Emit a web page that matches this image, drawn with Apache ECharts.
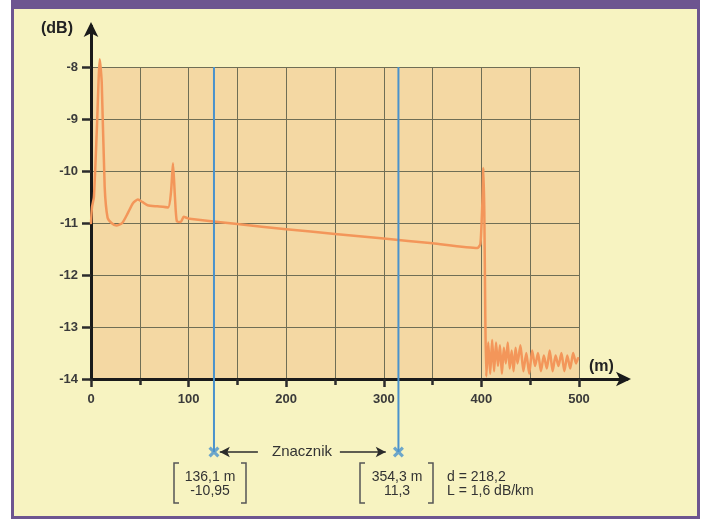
<!DOCTYPE html>
<html>
<head>
<meta charset="utf-8">
<script src="https://cdn.jsdelivr.net/npm/echarts@6/dist/echarts.min.js"></script>
<style>
  body { margin: 0; background: #ffffff; }
  #frame { position: absolute; left: 11px; top: 0; width: 689px; height: 519px; box-sizing: border-box;
           border: 3px solid #6d5590; border-top-width: 9px; background: #f7f3c1; }
  #main { position: absolute; left: 0; top: 0; width: 702px; height: 519px; }
</style>
</head>
<body>
<div id="frame"></div>
<div id="main"></div>
<script>
// OTDR trace: distance (m) and level (dB)
var distM = [0, 1, 3, 6, 9, 11, 14, 17, 21, 26, 32, 38, 43, 48, 53, 58, 68, 79, 82, 84, 86, 88, 92, 95, 98, 101,
  150, 200, 250, 300, 350, 396, 399, 401, 402, 403, 404,
  405, 407, 409, 411, 413, 415, 417, 419, 421, 423, 425, 427, 429, 431, 433, 435, 437, 440, 443, 446, 449,
  452, 455, 458, 461, 464, 467, 470, 473, 476, 479, 482, 485, 488, 491, 494, 497, 499];
var levelDb = [-11.0, -10.7, -10.5, -9.2, -7.85, -8.3, -10.3, -10.9, -11.0, -11.05, -11.0, -10.8, -10.62, -10.55, -10.6, -10.66, -10.68, -10.7, -10.4, -9.85, -10.5, -10.97, -10.98, -10.88, -10.9, -10.92,
  -11.02, -11.12, -11.21, -11.3, -11.39, -11.48, -11.4, -10.6, -9.94, -10.8, -12.8,
  -13.95, -13.3, -13.9, -13.25, -13.85, -13.3, -13.75, -13.35, -13.9, -13.4, -13.7, -13.3, -13.8, -13.45, -13.85, -13.4, -13.7, -13.35, -13.85, -13.5, -13.9,
  -13.45, -13.75, -13.5, -13.85, -13.55, -13.8, -13.45, -13.85, -13.55, -13.75, -13.5, -13.85, -13.55, -13.8, -13.5, -13.7, -13.6];

// markers (drawn position on the distance axis)
var markerDist = [126, 315];
var markerText1 = ['136,1 m', '-10,95'];
var markerText2 = ['354,3 m', '11,3'];
var resultText = ['d = 218,2', 'L = 1,6 dB/km'];

var trace = distM.map(function (d, i) { return [d, levelDb[i]]; });
var blue = '#4a92cc';
var ink = '#2b2b2b';
var font = 'Liberation Sans';

var chart = echarts.init(document.getElementById('main'));
var option = {
  animation: false,
  backgroundColor: 'transparent',
  grid: [
    { left: 91, top: 67, width: 488, height: 312, show: true, backgroundColor: '#f4d8a3', borderWidth: 0 },
    { left: 91, top: 67, width: 488, height: 385 },
    { left: 91, top: 26, width: 536, height: 353 }
  ],
  xAxis: [
    { gridIndex: 0, type: 'value', min: 0, max: 500, interval: 100,
      axisLine: { show: false },
      axisTick: { show: true, length: 8, lineStyle: { color: ink, width: 2.5 } },
      minorTick: { show: true, splitNumber: 2, length: 6, lineStyle: { color: ink, width: 2.5 } },
      splitLine: { show: true, lineStyle: { color: '#6f6e55', width: 1 } },
      minorSplitLine: { show: true, lineStyle: { color: '#6f6e55', width: 1 } },
      axisLabel: { margin: 14, color: '#3a3a3a', fontSize: 13, fontFamily: font, fontWeight: 'bold' } },
    { gridIndex: 1, type: 'value', min: 0, max: 500, show: false },
    { gridIndex: 2, type: 'value', min: 0, max: 1,
      axisLine: { show: true, onZero: false, symbol: ['none', 'arrow'], symbolSize: [11, 15], symbolOffset: [0, 4],
                  lineStyle: { color: '#1a1a1a', width: 3 } },
      axisTick: { show: false }, axisLabel: { show: false }, splitLine: { show: false } }
  ],
  yAxis: [
    { gridIndex: 0, type: 'value', min: -14, max: -8, interval: 1,
      axisLine: { show: false },
      axisTick: { show: true, length: 9, lineStyle: { color: ink, width: 2.5 } },
      splitLine: { show: true, lineStyle: { color: '#6f6e55', width: 1 } },
      axisLabel: { margin: 13, color: '#3a3a3a', fontSize: 13, fontFamily: font, fontWeight: 'bold' } },
    { gridIndex: 1, type: 'value', min: 0, max: 1, show: false },
    { gridIndex: 2, type: 'value', min: 0, max: 1,
      axisLine: { show: true, onZero: false, symbol: ['none', 'arrow'], symbolSize: [11, 15], symbolOffset: [0, 4],
                  lineStyle: { color: '#1a1a1a', width: 3 } },
      axisTick: { show: false }, axisLabel: { show: false }, splitLine: { show: false } }
  ],
  series: [
    { type: 'line', xAxisIndex: 0, yAxisIndex: 0, data: trace, symbol: 'none', smooth: 0.2, clip: false,
      lineStyle: { color: '#f3965a', width: 2.5, cap: 'round', join: 'round' } },
    { type: 'line', xAxisIndex: 1, yAxisIndex: 1, data: [[markerDist[0], 1], [markerDist[0], 0]], symbol: 'none',
      lineStyle: { color: blue, width: 2 } },
    { type: 'line', xAxisIndex: 1, yAxisIndex: 1, data: [[markerDist[1], 1], [markerDist[1], 0]], symbol: 'none',
      lineStyle: { color: blue, width: 2 },
      markLine: {
        silent: true, symbolSize: [8, 10], label: { show: false },
        lineStyle: { color: ink, width: 1.5, type: 'solid' },
        data: [
          [{ coord: [132, 0], symbol: 'arrow' }, { coord: [171, 0], symbol: 'none' }],
          [{ coord: [255, 0], symbol: 'none' }, { coord: [302, 0], symbol: 'arrow' }]
        ]
      } },
    { type: 'scatter', xAxisIndex: 1, yAxisIndex: 1,
      data: [[markerDist[0], 0], [markerDist[1], 0]],
      symbol: 'path://M2,0 L5,3 L8,0 L10,2 L7,5 L10,8 L8,10 L5,7 L2,10 L0,8 L3,5 L0,2 Z',
      symbolSize: 11, itemStyle: { color: blue } }
  ],
  graphic: [
    { type: 'text', left: 41, top: 21, style: { text: '(dB)', font: 'bold 16px Liberation Sans', fill: '#222' } },
    { type: 'text', left: 589, top: 359, style: { text: '(m)', font: 'bold 16px Liberation Sans', fill: '#222' } },
    { type: 'text', x: 302, y: 452, style: { text: 'Znacznik', font: '15px Liberation Sans', fill: '#333', align: 'center', verticalAlign: 'middle' } },
    { type: 'polyline', shape: { points: [[179, 463], [174, 463], [174, 503], [179, 503]] }, style: { stroke: '#555', lineWidth: 1.5, fill: 'none' } },
    { type: 'polyline', shape: { points: [[241, 463], [246, 463], [246, 503], [241, 503]] }, style: { stroke: '#555', lineWidth: 1.5, fill: 'none' } },
    { type: 'polyline', shape: { points: [[365, 463], [360, 463], [360, 503], [365, 503]] }, style: { stroke: '#555', lineWidth: 1.5, fill: 'none' } },
    { type: 'polyline', shape: { points: [[428, 463], [433, 463], [433, 503], [428, 503]] }, style: { stroke: '#555', lineWidth: 1.5, fill: 'none' } },
    { type: 'text', x: 210, y: 484, style: { text: markerText1.join('\n'), font: '14px Liberation Sans', lineHeight: 14, fill: '#333', align: 'center', verticalAlign: 'middle' } },
    { type: 'text', x: 397, y: 484, style: { text: markerText2.join('\n'), font: '14px Liberation Sans', lineHeight: 14, fill: '#333', align: 'center', verticalAlign: 'middle' } },
    { type: 'text', x: 447, y: 484, style: { text: resultText.join('\n'), font: '14px Liberation Sans', lineHeight: 14, fill: '#333', align: 'left', verticalAlign: 'middle' } }
  ]
};
chart.setOption(option);
</script>
</body>
</html>
